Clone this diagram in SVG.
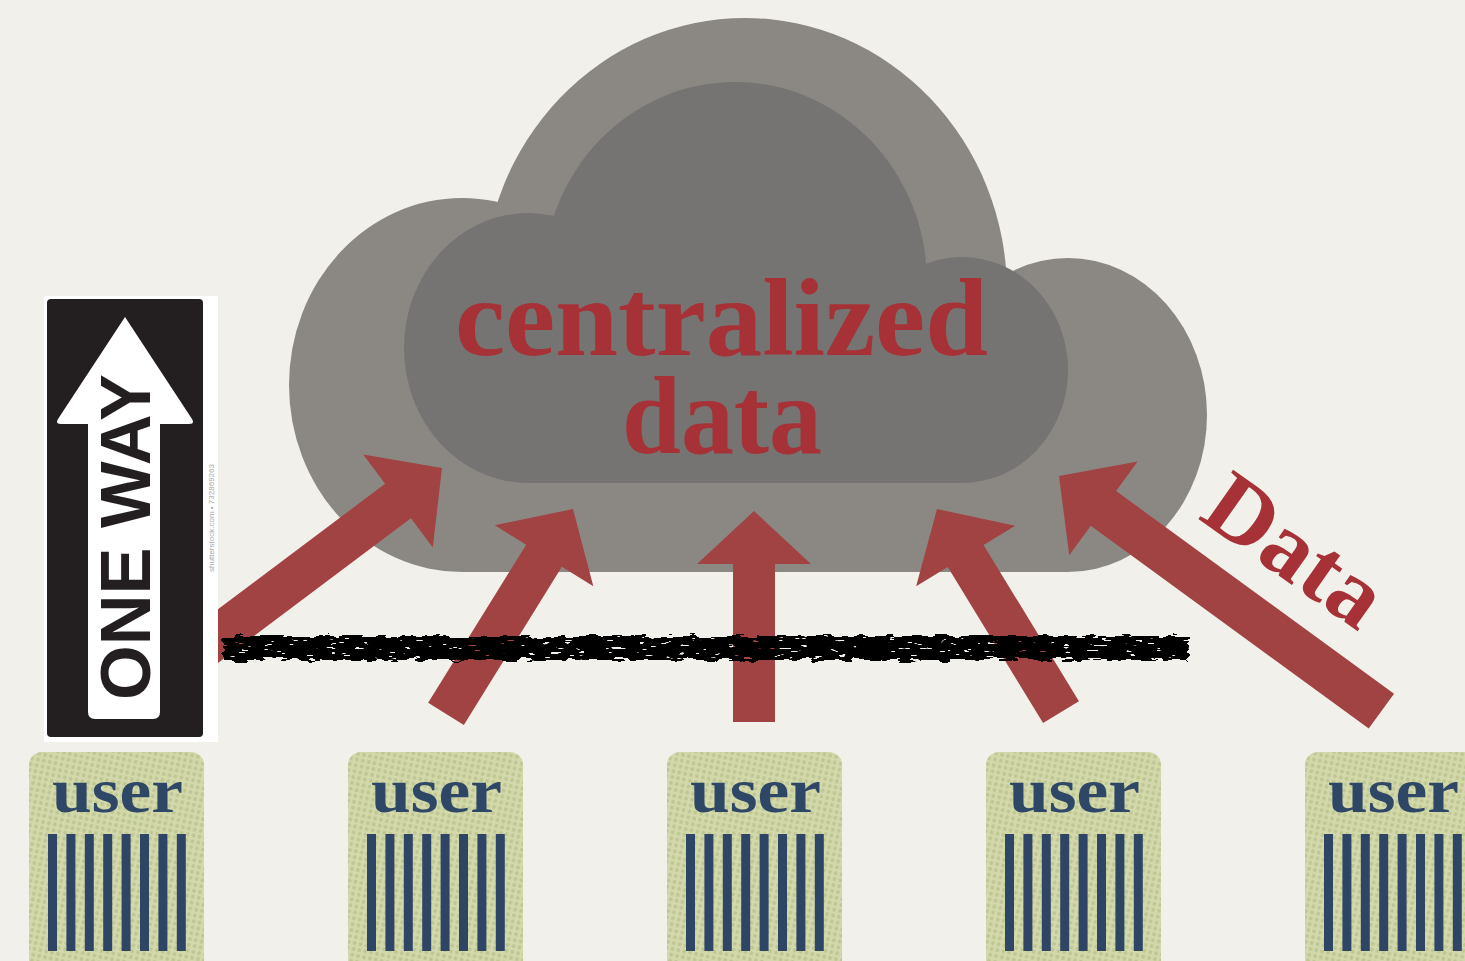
<svg xmlns="http://www.w3.org/2000/svg" width="1465" height="961" viewBox="0 0 1465 961">
  <defs>
    <style>
      .bg { fill: #f2f0eb; }
      .cloud-outer { fill: #8b8884; }
      .cloud-inner { fill: #757472; }
      .arrow { fill: #a24343; }
      .title { font-family: "Liberation Serif", "DejaVu Serif", serif; font-weight: bold; fill: #a63237; }
      .label { font-family: "Liberation Serif", "DejaVu Serif", serif; font-weight: bold; fill: #a63237; }
      .user-box { fill: url(#halftone); }
      .user-text { font-family: "Liberation Serif", "DejaVu Serif", serif; font-weight: bold; fill: #2f4766; }
      .bar { fill: #2f4566; }
      .sign-text { font-family: "Liberation Sans", Arial, sans-serif; font-weight: bold; fill: #231f20; }
      .credit { font-family: "Liberation Sans", Arial, sans-serif; fill: #a8a8a8; }
    </style>
    <!-- halftone dots on the user cards -->
    <pattern id="halftone" width="6" height="6" patternUnits="userSpaceOnUse" patternTransform="rotate(12)">
      <rect width="6" height="6" fill="#d3d9aa"/>
      <circle cx="3" cy="3" r="1.9" fill="#bec693"/>
    </pattern>
    <!-- rough marker stroke: wobbly edges plus a few small gaps -->
    <filter id="rough" filterUnits="userSpaceOnUse" x="200" y="615" width="1010" height="65">
      <feTurbulence type="fractalNoise" baseFrequency="0.06 0.2" numOctaves="2" seed="7" result="noise"/>
      <feDisplacementMap in="SourceGraphic" in2="noise" scale="10" xChannelSelector="R" yChannelSelector="G" result="disp"/>
      <feTurbulence type="fractalNoise" baseFrequency="0.08 0.4" numOctaves="2" seed="3" result="holesNoise"/>
      <feColorMatrix in="holesNoise" type="matrix" values="0 0 0 0 0  0 0 0 0 0  0 0 0 0 0  -34 0 0 0 24.5" result="holes"/>
      <feComposite in="disp" in2="holes" operator="in"/>
    </filter>
  </defs>

  <rect class="bg" x="0" y="0" width="1465" height="961"/>

  <!-- cloud -->
  <g id="cloud">
    <g class="cloud-outer">
      <ellipse cx="462" cy="385" rx="173" ry="187"/>
      <ellipse cx="745" cy="292" rx="262" ry="274"/>
      <ellipse cx="1068" cy="415" rx="139" ry="157"/>
      <rect x="462" y="380" width="606" height="192"/>
    </g>
    <g class="cloud-inner">
      <ellipse cx="528" cy="348" rx="124" ry="135"/>
      <ellipse cx="735" cy="282" rx="192" ry="200"/>
      <ellipse cx="962" cy="370" rx="106" ry="113"/>
      <rect x="528" y="345" width="434" height="138"/>
    </g>
    <text class="title" font-size="110"><tspan x="455" y="355" textLength="533" lengthAdjust="spacingAndGlyphs">centralized</tspan><tspan x="622" y="453" textLength="200" lengthAdjust="spacingAndGlyphs">data</tspan></text>
  </g>

  <!-- connectors: data flowing up from the users -->
  <g id="connectors">
    <path class="arrow" transform="translate(442,468) rotate(-36.87)" d="M0,0 L-55,-58 L-55,-21.5 L-400,-21.5 L-400,21.5 L-55,21.5 L-55,58 Z"/>
    <path class="arrow" transform="translate(573,509) rotate(-58.2)" d="M0,0 L-55,-58 L-55,-21 L-241,-21 L-241,21 L-55,21 L-55,58 Z"/>
    <path class="arrow" transform="translate(754,511) rotate(-90)" d="M0,0 L-53,-57 L-53,-21 L-211,-21 L-211,21 L-53,21 L-53,57 Z"/>
    <path class="arrow" transform="translate(937,509) rotate(-121.4)" d="M0,0 L-55,-58 L-55,-21 L-238,-21 L-238,21 L-55,21 L-55,58 Z"/>
    <path class="arrow" transform="translate(1059,476) rotate(-143.9)" d="M0,0 L-55,-58 L-55,-21.5 L-399,-21.5 L-399,21.5 L-55,21.5 L-55,58 Z"/>
    <text class="label" x="1197" y="518" font-size="92" textLength="198" lengthAdjust="spacingAndGlyphs" transform="rotate(35.2 1197 518)">Data</text>
  </g>

  <!-- scribbled barrier line -->
  <g id="barrier">
    <rect x="222" y="636" width="966" height="24" fill="#000" filter="url(#rough)"/>
  </g>

  <!-- one way sign -->
  <g id="sign">
    <rect x="44" y="296" width="174" height="446" fill="#ffffff"/>
    <rect x="47" y="299" width="156" height="438" rx="4" fill="#231f20"/>
    <path d="M125,317 L192,419 Q195,424 189,424 L160,424 L160,712 Q160,719 153,719 L95,719 Q88,719 88,712 L88,424 L61,424 Q55,424 58,419 Z" fill="#ffffff"/>
    <text class="sign-text" x="150" y="537" font-size="70" text-anchor="middle" textLength="326" lengthAdjust="spacingAndGlyphs" transform="rotate(-90 150 537)">ONE WAY</text>
    <text class="credit" x="214" y="518" font-size="6.5" text-anchor="middle" textLength="108" lengthAdjust="spacingAndGlyphs" transform="rotate(-90 214 518)">shutterstock.com • 732869263</text>
  </g>

  <!-- users -->
  <g id="user1">
    <rect class="user-box" x="29" y="752" width="175" height="230" rx="13"/>
    <text class="user-text" x="52" y="812" font-size="64" textLength="131" lengthAdjust="spacingAndGlyphs">user</text>
    <g class="bar">
      <rect x="48" y="834" width="9" height="117"/><rect x="66.4" y="834" width="9" height="117"/>
      <rect x="84.8" y="834" width="9" height="117"/><rect x="103.2" y="834" width="9" height="117"/>
      <rect x="121.6" y="834" width="9" height="117"/><rect x="140" y="834" width="9" height="117"/>
      <rect x="158.4" y="834" width="9" height="117"/><rect x="176.8" y="834" width="9" height="117"/>
    </g>
  </g>
  <g id="user2" transform="translate(319,0)">
    <rect class="user-box" x="29" y="752" width="175" height="230" rx="13"/>
    <text class="user-text" x="52" y="812" font-size="64" textLength="131" lengthAdjust="spacingAndGlyphs">user</text>
    <g class="bar">
      <rect x="48" y="834" width="9" height="117"/><rect x="66.4" y="834" width="9" height="117"/>
      <rect x="84.8" y="834" width="9" height="117"/><rect x="103.2" y="834" width="9" height="117"/>
      <rect x="121.6" y="834" width="9" height="117"/><rect x="140" y="834" width="9" height="117"/>
      <rect x="158.4" y="834" width="9" height="117"/><rect x="176.8" y="834" width="9" height="117"/>
    </g>
  </g>
  <g id="user3" transform="translate(638,0)">
    <rect class="user-box" x="29" y="752" width="175" height="230" rx="13"/>
    <text class="user-text" x="52" y="812" font-size="64" textLength="131" lengthAdjust="spacingAndGlyphs">user</text>
    <g class="bar">
      <rect x="48" y="834" width="9" height="117"/><rect x="66.4" y="834" width="9" height="117"/>
      <rect x="84.8" y="834" width="9" height="117"/><rect x="103.2" y="834" width="9" height="117"/>
      <rect x="121.6" y="834" width="9" height="117"/><rect x="140" y="834" width="9" height="117"/>
      <rect x="158.4" y="834" width="9" height="117"/><rect x="176.8" y="834" width="9" height="117"/>
    </g>
  </g>
  <g id="user4" transform="translate(957,0)">
    <rect class="user-box" x="29" y="752" width="175" height="230" rx="13"/>
    <text class="user-text" x="52" y="812" font-size="64" textLength="131" lengthAdjust="spacingAndGlyphs">user</text>
    <g class="bar">
      <rect x="48" y="834" width="9" height="117"/><rect x="66.4" y="834" width="9" height="117"/>
      <rect x="84.8" y="834" width="9" height="117"/><rect x="103.2" y="834" width="9" height="117"/>
      <rect x="121.6" y="834" width="9" height="117"/><rect x="140" y="834" width="9" height="117"/>
      <rect x="158.4" y="834" width="9" height="117"/><rect x="176.8" y="834" width="9" height="117"/>
    </g>
  </g>
  <g id="user5" transform="translate(1276,0)">
    <rect class="user-box" x="29" y="752" width="175" height="230" rx="13"/>
    <text class="user-text" x="52" y="812" font-size="64" textLength="131" lengthAdjust="spacingAndGlyphs">user</text>
    <g class="bar">
      <rect x="48" y="834" width="9" height="117"/><rect x="66.4" y="834" width="9" height="117"/>
      <rect x="84.8" y="834" width="9" height="117"/><rect x="103.2" y="834" width="9" height="117"/>
      <rect x="121.6" y="834" width="9" height="117"/><rect x="140" y="834" width="9" height="117"/>
      <rect x="158.4" y="834" width="9" height="117"/><rect x="176.8" y="834" width="9" height="117"/>
    </g>
  </g>
</svg>
